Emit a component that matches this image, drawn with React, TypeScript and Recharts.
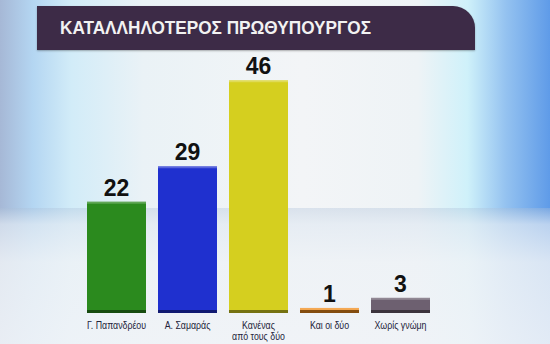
import { BarChart, Bar, XAxis, YAxis, Cell, LabelList } from "recharts";

// poll results (%)
const categories = ["Γ. Παπανδρέου", "Α. Σαμαράς", "Κανένας από τους δύο", "Και οι δύο", "Χωρίς γνώμη"];
const values = [22, 29, 46, 1, 3];

// two-line label for the long category
const tickLines: Record<string, string[]> = {
  "Κανένας από τους δύο": ["Κανένας", "από τους δύο"],
};

const barColors = ["#2b8a1e", "#1f30cf", "#d5cf1f", "#f08d1c", "#6d6070"];

const chartData = categories.map((name, i) => ({ name, value: values[i] }));

const TITLE = "ΚΑΤΑΛΛΗΛΟΤΕΡΟΣ ΠΡΩΘΥΠΟΥΡΓΟΣ";

function BarShape(props: any) {
  const { x, y, width, height, fill } = props;
  if (height <= 0) return null;
  return (
    <g>
      <rect x={x} y={y} width={width} height={height} fill={fill} />
      <rect x={x} y={y} width={width} height={2} fill="#ffffff" opacity={0.25} />
      <rect x={x} y={y + height - 3} width={width} height={3} fill="#000000" opacity={0.45} />
    </g>
  );
}

function CategoryTick(props: any) {
  const { x, y, payload } = props;
  const lines = tickLines[payload.value] || [payload.value];
  return (
    <g transform={`translate(${x},${y}) scale(0.8,1)`}>
      <text
        x={0}
        y={0}
        textAnchor="middle"
        fill="#23233a"
        fontSize={11}
        fontFamily="'Liberation Sans', Arial, sans-serif"
      >
        {lines.map((l, i) => (
          <tspan key={i} x={0} dy={i === 0 ? 8 : 11.5}>
            {l}
          </tspan>
        ))}
      </text>
    </g>
  );
}

export default function App() {
  return (
    <div
      style={{
        position: "fixed",
        top: 0,
        left: 0,
        width: 550,
        height: 344,
        overflow: "hidden",
        background:
          "linear-gradient(90deg, #a6b8d6 0%, #b4d6f2 6%, #d2ecf8 13%, #eaf2f6 26%, #f3f5f7 55%, #eef3f6 76%, #cff1fa 85%, #94c2f0 92%, #5f9be8 100%)",
      }}
    >
      {/* soft floor */}
      <div
        style={{
          position: "absolute",
          left: 0,
          top: 208,
          width: 550,
          height: 136,
          background:
            "linear-gradient(180deg, rgba(170,190,215,0.35) 0%, rgba(225,233,242,0.7) 12%, rgba(238,242,246,0.85) 40%, rgba(240,243,247,0.9) 100%)",
        }}
      />
      {/* title banner */}
      <div
        style={{
          position: "absolute",
          left: 37,
          top: 6,
          width: 438,
          height: 44,
          background: "#3d2b47",
          borderTopRightRadius: 22,
          boxShadow: "0 1px 2px rgba(0,0,0,0.3)",
        }}
      />
      <svg style={{ position: "absolute", left: 0, top: 0 }} width={550} height={60}>
        <text
          x={60}
          y={34}
          fill="#f2f2f2"
          fontFamily="'Liberation Sans', Arial, sans-serif"
          fontWeight="bold"
          fontSize={19}
          textLength={311}
          lengthAdjust="spacingAndGlyphs"
        >
          {TITLE}
        </text>
      </svg>
      <div style={{ position: "absolute", left: 0, top: 0 }}>
        <BarChart
          width={550}
          height={344}
          data={chartData}
          margin={{ top: 60, right: 114, left: 81, bottom: 0 }}
        >
          <XAxis
            dataKey="name"
            axisLine={false}
            tickLine={false}
            height={31}
            interval={0}
            tick={<CategoryTick />}
          />
          <YAxis hide domain={[0, 50]} />
          <Bar dataKey="value" barSize={59} isAnimationActive={false} shape={<BarShape />}>
            {chartData.map((d, i) => (
              <Cell key={d.name} fill={barColors[i]} />
            ))}
            <LabelList
              dataKey="value"
              position="top"
              offset={6}
              fill="#111111"
              fontSize={23}
              fontWeight="bold"
              fontFamily="'Liberation Sans', Arial, sans-serif"
            />
          </Bar>
        </BarChart>
      </div>
    </div>
  );
}
